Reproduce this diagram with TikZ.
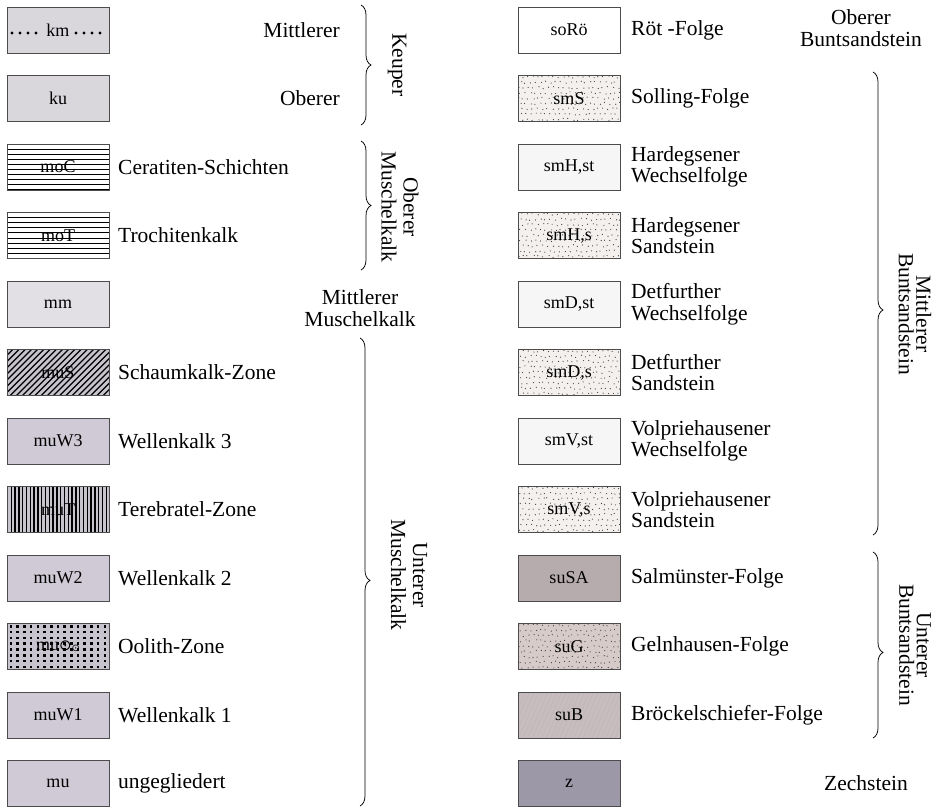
\documentclass[tikz,border=0pt]{standalone}
\usepackage{fontspec}
\setmainfont{Liberation Serif}
\newfontfamily\symfont{DejaVu Sans}
\usetikzlibrary{decorations.pathreplacing}
\definecolor{kgray}{RGB}{218,215,220}
\definecolor{mmgray}{RGB}{226,224,229}
\definecolor{mugray}{RGB}{207,202,213}
\definecolor{patgray}{RGB}{200,196,206}
\definecolor{stwhite}{RGB}{247,246,246}
\definecolor{sandbg}{RGB}{243,240,238}
\definecolor{susa}{RGB}{183,172,173}
\definecolor{sug}{RGB}{215,203,201}
\definecolor{sub}{RGB}{200,188,190}
\definecolor{zc}{RGB}{156,152,168}
\tikzset{
  lbl/.style={font=\fontsize{21.5}{21.5}\selectfont, inner sep=0pt},
  vlbl/.style={font=\fontsize{21.5}{22}\selectfont, inner sep=0pt, rotate=-90, align=center},
  vlbls/.style={font=\fontsize{21.5}{17.5}\selectfont, inner sep=0pt, rotate=-90, align=center},
  geobox/.style={draw=black!70, line width=0.6pt, minimum width=102pt, minimum height=46pt, inner sep=0pt, font=\fontsize{18}{18}\selectfont},
  brc/.style={decorate, decoration={brace, amplitude=10pt}, line width=0.75pt},
}
% pattern bodies, in coordinates relative to the box centre
\newcommand\patNone{}
\newcommand\patH{\foreach \k in {0,...,9} \draw[line width=1pt] (-52,-23+\k*5.1) -- (52,-23+\k*5.1);}
\newcommand\patD{\foreach \k in {-14,...,14} \draw[line width=1.25pt] (\k*6.2-25,25) -- (\k*6.2+25,-25);}
\newcommand\patV{\foreach \k in {0,...,27} \draw[line width=1.35pt] (-50.5+\k*3.8,-24) -- (-50.5+\k*3.8,24);}
\newcommand\patO{\foreach \i in {0,...,14} \foreach \j in {0,...,7} \fill (-48.3+\i*6.7,-19+\j*5.8) rectangle +(2.6,-2.6);}
\newcommand\patS[1]{\pgfmathsetseed{#1}%
  \foreach \j in {0,...,8} \foreach \i in {0,...,20} {%
    \pgfmathsetmacro\dxx{-51+\i*5+mod(\j,2)*2.5+rand*1.3}%
    \pgfmathsetmacro\dyy{-21.5+\j*5.3+rand*1.1}%
    \fill[black!75] (\dxx,\dyy) circle (0.6);}}
\newcommand\patB{\foreach \k in {-16,...,16} \draw[black!28, line width=0.5pt] (\k*4.6-10,25) -- (\k*4.6+12,-25);}
\newcommand\patKm{\foreach \dx in {-46,-38,-30,-22,18,26,34,42} \fill (\dx,3) circle (1.6);}
% box: name, cx, cy, fill, pattern, code
\newcommand\geob[6]{%
  \fill[#4] (#2-51,#3-23) rectangle (#2+51,#3+23);
  \begin{scope}
    \clip (#2-51,#3-23) rectangle (#2+51,#3+23);
    \begin{scope}[shift={(#2,#3)}] #5 \end{scope}
  \end{scope}
  \node[geobox] (#1) at (#2,#3) {#6};
}
\begin{document}
\begin{tikzpicture}[x=1pt,y=-1pt]
\useasboundingbox (0,0) rectangle (940,811);
\fill[white] (0,0) rectangle (940,811);

% ---------- left column boxes ----------
\geob{L0}{58}{30}{kgray}{\patKm}{km}
\geob{L1}{58}{98.5}{kgray}{\patNone}{ku}
\geob{L2}{58}{167}{white}{\patH}{moC}
\geob{L3}{58}{235.5}{white}{\patH}{moT}
\geob{L4}{58}{304}{mmgray}{\patNone}{mm}
\geob{L5}{58}{372.5}{patgray}{\patD}{muS}
\geob{L6}{58}{441}{mugray}{\patNone}{muW3}
\geob{L7}{58}{509.5}{patgray}{\patV}{muT}
\geob{L8}{58}{578}{mugray}{\patNone}{muW2}
\geob{L9}{58}{646.5}{patgray}{\patO}{mu{\symfont\fontsize{15}{15}\selectfont ⊙\raisebox{-1pt}{\fontsize{10}{10}\selectfont ⊙}}}
\geob{L10}{58}{715}{mugray}{\patNone}{muW1}
\geob{L11}{58}{783.5}{mugray}{\patNone}{mu}

% ---------- left labels ----------
\node[lbl, anchor=east] (l0) at (340,30) {Mittlerer};
\node[lbl, anchor=east] (l1) at (340,98.5) {Oberer};
\node[lbl, anchor=west] (l2) at (118,167) {Ceratiten-Schichten};
\node[lbl, anchor=west] (l3) at (118,235.5) {Trochitenkalk};
\node[lbl, anchor=west] (l5) at (118,372.5) {Schaumkalk-Zone};
\node[lbl, anchor=west] (l6) at (118,441) {Wellenkalk 3};
\node[lbl, anchor=west] (l7) at (118,509.5) {Terebratel-Zone};
\node[lbl, anchor=west] (l8) at (118,578) {Wellenkalk 2};
\node[lbl, anchor=west] (l9) at (118,646.5) {Oolith-Zone};
\node[lbl, anchor=west] (l10) at (118,715) {Wellenkalk 1};
\node[lbl, anchor=west] (l11) at (118,783.5) {ungegliedert};

% ---------- left groups ----------
\coordinate (kT) at (361,5);   \coordinate (kB) at (361,125);
\coordinate (omT) at (361,141); \coordinate (omB) at (361,270);
\coordinate (umT) at (360,338); \coordinate (umB) at (360,806);
\draw[brc] (kT) -- (kB);
\draw[brc] (omT) -- (omB);
\draw[brc, decoration={aspect=0.518}] (umT) -- (umB);
\node[vlbl] (gK) at (397,65) {Keuper};
\node[vlbl] (gOM) at (400,207) {Oberer\\Muschelkalk};
\node[lbl, align=center] (gMM) at (360,308) {Mittlerer\\Muschelkalk};
\node[vlbl] (gUM) at (409,575) {Unterer\\Muschelkalk};

% ---------- right column boxes ----------
\geob{R0}{569}{30}{white}{\patNone}{soRö}
\geob{R1}{569}{98.5}{sandbg}{\patS{3}}{smS}
\geob{R2}{569}{167}{stwhite}{\patNone}{smH,st}
\geob{R3}{569}{235.5}{sandbg}{\patS{5}}{smH,s}
\geob{R4}{569}{304}{stwhite}{\patNone}{smD,st}
\geob{R5}{569}{372.5}{sandbg}{\patS{7}}{smD,s}
\geob{R6}{569}{441}{stwhite}{\patNone}{smV,st}
\geob{R7}{569}{509.5}{sandbg}{\patS{9}}{smV,s}
\geob{R8}{569}{578}{susa}{\patNone}{suSA}
\geob{R9}{569}{646.5}{sug}{\patS{11}}{suG}
\geob{R10}{569}{715}{sub}{\patB}{suB}
\geob{R11}{569}{783.5}{zc}{\patNone}{z}

% ---------- right labels ----------
\node[lbl, anchor=west] (r0) at (631,30) {Röt -Folge};
\node[lbl, anchor=west] (r1) at (631,98.5) {Solling-Folge};
\node[lbl, anchor=west, align=left] (r2) at (631,167) {Hardegsener\\Wechselfolge};
\node[lbl, anchor=west, align=left] (r3) at (631,235.5) {Hardegsener\\Sandstein};
\node[lbl, anchor=west, align=left] (r4) at (631,304) {Detfurther\\Wechselfolge};
\node[lbl, anchor=west, align=left] (r5) at (631,372.5) {Detfurther\\Sandstein};
\node[lbl, anchor=west, align=left] (r6) at (631,441) {Volpriehausener\\Wechselfolge};
\node[lbl, anchor=west, align=left] (r7) at (631,509.5) {Volpriehausener\\Sandstein};
\node[lbl, anchor=west] (r8) at (631,578) {Salmünster-Folge};
\node[lbl, anchor=west] (r9) at (631,646.5) {Gelnhausen-Folge};
\node[lbl, anchor=west] (r10) at (631,715) {Bröckelschiefer-Folge};

% ---------- right groups ----------
\node[lbl, align=center] (gOB) at (861,28) {Oberer\\Buntsandstein};
\coordinate (mbT) at (873,72);  \coordinate (mbB) at (873,535);
\coordinate (ubT) at (873,552); \coordinate (ubB) at (873,738);
\draw[brc, decoration={aspect=0.514}] (mbT) -- (mbB);
\draw[brc, decoration={aspect=0.54}] (ubT) -- (ubB);
\node[vlbls] (gMB) at (915,314) {Mittlerer\\Buntsandstein};
\node[vlbls] (gUB) at (915,645) {Unterer\\Buntsandstein};
\node[lbl] (gZ) at (866,783.5) {Zechstein};
\end{tikzpicture}
\end{document}
